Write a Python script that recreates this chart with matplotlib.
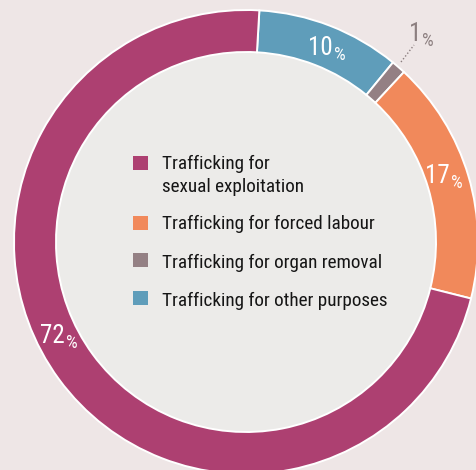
import matplotlib
matplotlib.use("Agg")
import matplotlib.pyplot as plt
from matplotlib import font_manager
from matplotlib.font_manager import FontProperties
from matplotlib.patches import Circle, Rectangle

# Shares of detected trafficking victims by form of exploitation (%)
categories = [
    "Trafficking for other purposes",
    "Trafficking for organ removal",
    "Trafficking for forced labour",
    "Trafficking for\nsexual exploitation",
]
shares = [10, 1, 17, 72]
share_labels = ["10", "1", "17", "72"]
colors = ["#5f9dba", "#948084", "#f1895b", "#ad4071"]

legend_order = [3, 2, 1, 0]


def pick_font(light=False):
    """Prefer a condensed sans face; fall back to DejaVu Sans."""
    prefs = ["RobotoCondensed", "Roboto_Condensed", "NotoSans-Condensed", "OpenSans-Condensed",
             "OpenSansCondensed", "LiberationSansNarrow", "DejaVuSansCondensed"]
    want = ["Light", "Regular"] if light else ["Regular", ""]
    files = [f.fname for f in font_manager.fontManager.ttflist]
    for p in prefs:
        for w in want:
            for fn in files:
                base = fn.split("/")[-1].replace(" ", "")
                if p.lower() in base.lower() and "italic" not in base.lower():
                    rest = base.lower()
                    if w and w.lower() not in rest:
                        continue
                    if not w and any(k in rest for k in ("bold", "light", "thin", "medium", "black", "semi", "extra")):
                        continue
                    return FontProperties(fname=fn)
    return FontProperties(family="DejaVu Sans")


FP = pick_font()

W, H = 476, 470
fig = plt.figure(figsize=(W / 100, H / 100), dpi=100)
fig.patch.set_facecolor("#eee6e6")
ax = fig.add_axes([0, 0, 1, 1])
ax.set_facecolor("#eee6e6")

cx, cy = 246, H - 242
r_out, r_in = 232, 190

# light inner disc
ax.add_patch(Circle((cx, cy), r_in, facecolor="#ecebe9", edgecolor="none", zorder=0))

wedges, _ = ax.pie(
    shares,
    colors=colors,
    center=(cx, cy),
    radius=r_out,
    startangle=86.7,
    counterclock=False,
    frame=True,
    wedgeprops=dict(width=r_out - r_in, edgecolor="white", linewidth=1.4),
)

ax.set_xlim(0, W)
ax.set_ylim(0, H)
ax.set_aspect("equal")
ax.axis("off")


def pct_label(x, y, num, color, size=18):
    fp = FP.copy()
    fp.set_size(size)
    t = ax.text(x, y, num, color=color, ha="left", va="baseline",
                fontproperties=fp, zorder=5)
    fp2 = FP.copy()
    fp2.set_size(size * 0.74)
    ax.annotate("%", xy=(1, 0), xycoords=t, xytext=(0.8, 0), textcoords="offset points",
                color=color, ha="left", va="baseline", fontproperties=fp2, zorder=5)


# value labels inside the ring
pct_label(308, H - 55, share_labels[0], "white")
pct_label(425, H - 183, share_labels[2], "white")
pct_label(40, H - 343, share_labels[3], "white")

# small slice: label outside with dotted leader
pct_label(409, H - 41, share_labels[1], "#8c7f80")
ax.plot([401, 414], [H - 62, H - 45], linestyle=(0, (1, 1.5)), color="#8c7f80",
        linewidth=1.0, zorder=5)

# legend inside the donut
square_y = [163, 223, 260, 298]
baseline_y = [169, 229, 268, 306]
fp_leg = FP.copy()
fp_leg.set_size(13.8)
for sy, by, idx in zip(square_y, baseline_y, legend_order):
    ax.add_patch(Rectangle((133, H - sy - 7), 15, 14, facecolor=colors[idx],
                           edgecolor="none", zorder=5))
    for k, line in enumerate(categories[idx].split("\n")):
        ax.text(162, H - by - 23 * k, line, color="#151515", ha="left",
                va="baseline", fontproperties=fp_leg, zorder=5)

fig.savefig("out.png", dpi=100, facecolor=fig.get_facecolor())
